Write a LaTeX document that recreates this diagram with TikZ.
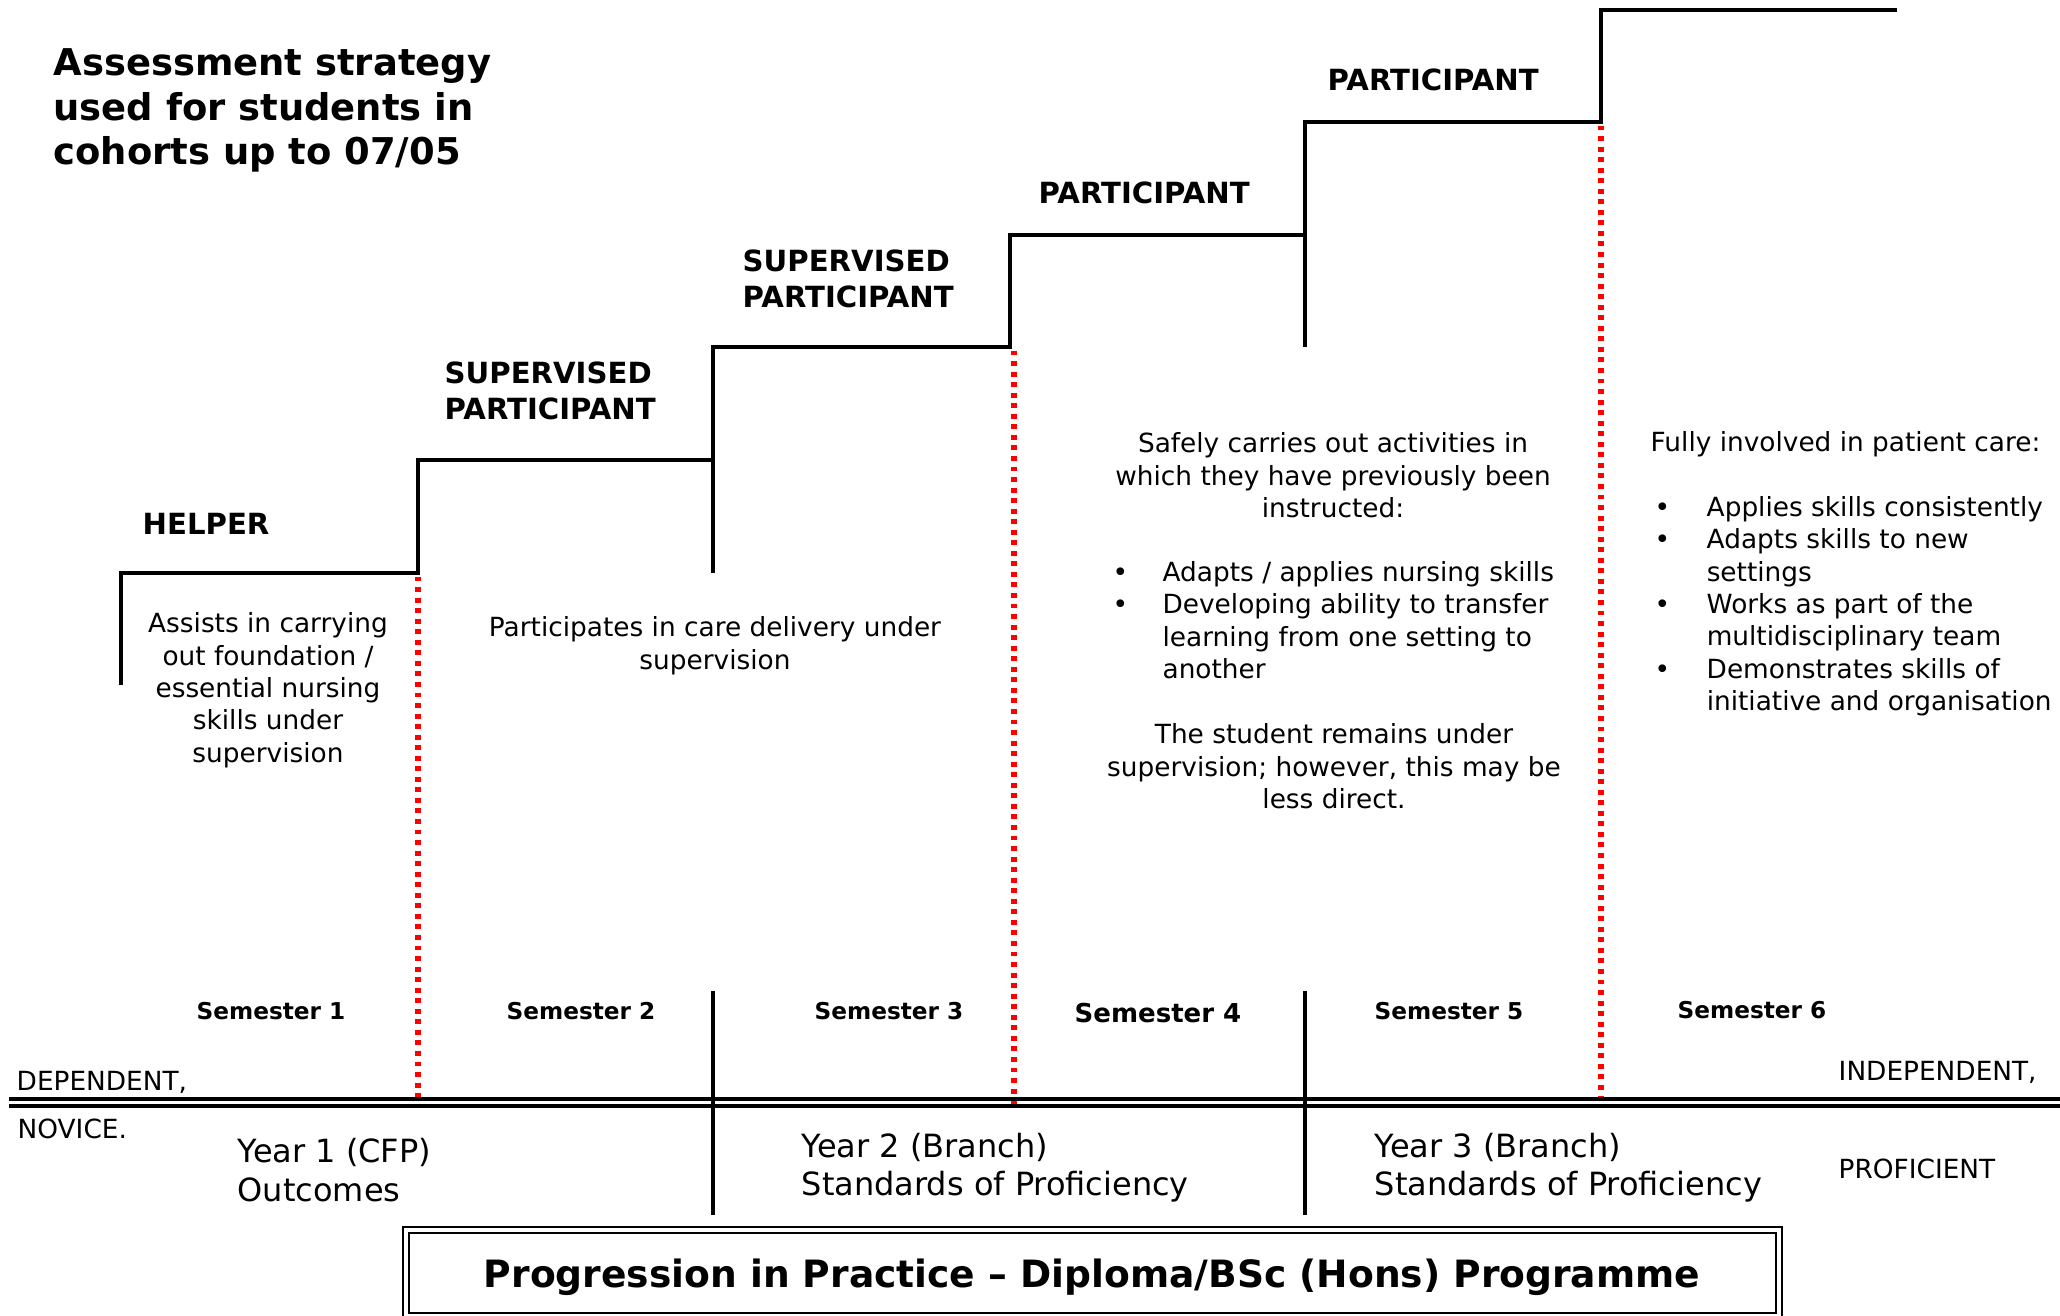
\documentclass[tikz,border=0pt]{standalone}
\usepackage{fontspec}
\setmainfont{DejaVu Sans}
\usepackage{tikz}

\tikzset{
    stair/.style={line width=1.3pt, line join=miter},
    semline/.style={red, line width=1.6pt, dash pattern=on 1.4pt off 1.6pt},
    yearline/.style={line width=1.1pt},
    rule/.style={line width=0.95pt},
    frame/.style={line width=0.75pt},
    stage/.style={inner sep=0pt, align=left, anchor=north west,
        font=\fontsize{8.3}{10.2}\selectfont\bfseries, execute at begin node=\strut},
    body/.style={inner sep=0pt, align=center, anchor=north,
        font=\fontsize{7.5}{9.2}\selectfont, execute at begin node=\strut},
    bullets/.style={inner sep=0pt, anchor=north west, font=\fontsize{7.5}{9.2}\selectfont},
    semester/.style={inner sep=0pt, anchor=base, font=\fontsize{6.6}{8}\selectfont\bfseries},
    level/.style={inner sep=0pt, anchor=base west, font=\fontsize{7.5}{9}\selectfont},
    year/.style={inner sep=0pt, align=left, anchor=north west,
        font=\fontsize{9.1}{11}\selectfont, execute at begin node=\strut},
}

\begin{document}
\begin{tikzpicture}[x=0.1mm, y=-0.1mm]
    \useasboundingbox (0,0) rectangle (2060,1315);

    % Title
    \node[stage, font=\fontsize{10.5}{12.66}\selectfont\bfseries] (title) at (53,48)
        {Assessment strategy\\used for students in\\cohorts up to 07/05};

    % Staircase
    \coordinate (s1) at (418,573);
    \coordinate (s3) at (1014,347);
    \coordinate (s5) at (1601,122);
    \coordinate (axis) at (0,1106);
    \draw[stair] (121,685) -- (121,573) -- (418,573) -- (418,460) -- (713,460)
        -- (713,347) -- (1010,347) -- (1010,235) -- (1305,235) -- (1305,122)
        -- (1601,122) -- (1601,10) -- (1897,10);
    \draw[stair] (713,460) -- (713,573);
    \draw[stair] (1305,235) -- (1305,347);

    % Semester boundaries
    \draw[semline] ([yshift=-1pt]s1) -- (s1 |- axis);
    \draw[semline] ([yshift=-1pt]s3) -- (s3 |- axis);
    \draw[semline] ([yshift=-1pt]s5) -- (s5 |- axis);

    % Stage labels
    \node[stage, anchor=base west] (helper) at (142,534) {HELPER};
    \node[stage] (super1) at (444,361) {SUPERVISED\\PARTICIPANT};
    \node[stage] (super2) at (742,249) {SUPERVISED\\PARTICIPANT};
    \node[stage, anchor=base west] (part1) at (1038,203) {PARTICIPANT};
    \node[stage, anchor=base west] (part2) at (1327,90) {PARTICIPANT};

    % Descriptions
    \node[body] (desc1) at (268,612)
        {Assists in carrying\\out foundation /\\essential nursing\\skills under\\supervision};
    \node[body] (desc2) at (715,616)
        {Participates in care delivery under\\supervision};
    \node[body] (desc4a) at (1333,432)
        {Safely carries out activities in\\which they have previously been\\instructed:};
    \node[bullets] (desc4b) at (1112,558) {\begin{tabular}{@{}p{14.2pt}@{}l@{}}
        \textbullet & Adapts / applies nursing skills\\
        \textbullet & Developing ability to transfer\\
                    & learning from one setting to\\
                    & another
        \end{tabular}};
    \node[body] (desc4c) at (1334,723)
        {The student remains under\\supervision; however, this may be\\less direct.};
    \node[body, anchor=base west] (desc6a) at (1650,451) {Fully involved in patient care:};
    \node[bullets] (desc6b) at (1654,493) {\begin{tabular}{@{}p{14.8pt}@{}l@{}}
        \textbullet & Applies skills consistently\\
        \textbullet & Adapts skills to new\\
                    & settings\\
        \textbullet & Works as part of the\\
                    & multidisciplinary team\\
        \textbullet & Demonstrates skills of\\
                    & initiative and organisation
        \end{tabular}};

    % Semesters
    \node[semester] (sem1) at (271,1019) {Semester 1};
    \node[semester] (sem2) at (581,1019) {Semester 2};
    \node[semester] (sem3) at (889,1019) {Semester 3};
    \node[semester, font=\fontsize{7.4}{9}\selectfont\bfseries] (sem4) at (1158,1022) {Semester 4};
    \node[semester] (sem5) at (1449,1019) {Semester 5};
    \node[semester] (sem6) at (1752,1018) {Semester 6};

    % Axis
    \draw[rule] (9,1099) -- (2060,1099);
    \draw[rule] (9,1106) -- (2060,1106);
    \node[level] (dep) at (16,1090) {DEPENDENT,};
    \node[level] (nov) at (17,1138) {NOVICE.};
    \node[level] (indep) at (1838,1080) {INDEPENDENT,};
    \node[level] (prof) at (1838,1178) {PROFICIENT};

    % Years
    \draw[yearline] (713,991) -- (713,1215);
    \draw[yearline] (1305,991) -- (1305,1215);
    \node[year] (year1) at (237,1138) {Year 1 (CFP)\\Outcomes};
    \node[year] (year2) at (801,1132) {Year 2 (Branch)\\Standards of Proficiency};
    \node[year] (year3) at (1374,1132) {Year 3 (Branch)\\Standards of Proficiency};

    % Programme box
    \draw[frame] (403,1227) rectangle (1782,1322);
    \draw[frame] (409,1233) rectangle (1776,1313);
    \node[inner sep=0pt, anchor=base, font=\fontsize{10.7}{12}\selectfont\bfseries] (prog) at (1092,1287)
        {Progression in Practice – Diploma/BSc (Hons) Programme};
\end{tikzpicture}
\end{document}
